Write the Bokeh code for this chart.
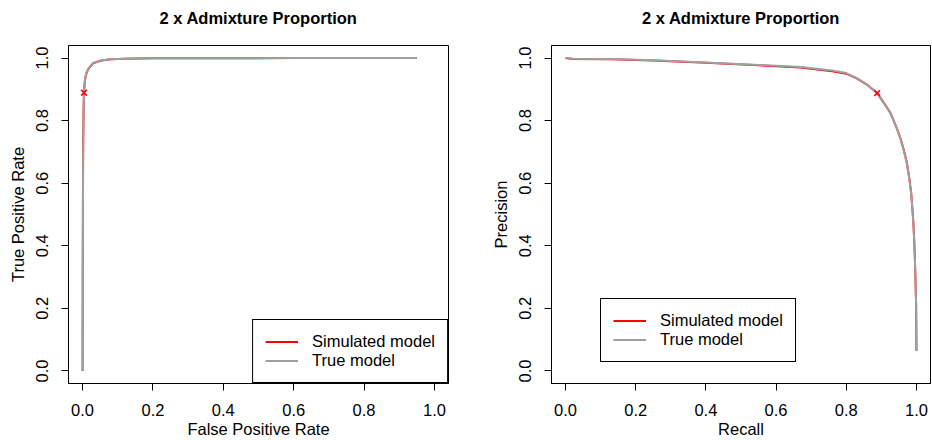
from bokeh.plotting import figure
from bokeh.layouts import row
from bokeh.models import FixedTicker, PrintfTickFormatter, Range1d, Legend, LegendItem, LinearAxis
from bokeh.embed import file_html
from bokeh.resources import INLINE

# ---------------- data ----------------
title_text = "2 x Admixture Proportion"
series_names = ["Simulated model", "True model"]
tick_values = [0.0, 0.2, 0.4, 0.6, 0.8, 1.0]

# ROC curve (left panel)
roc_fpr_true = [0.0, 0.0005, 0.001, 0.0015, 0.002, 0.003, 0.004, 0.006, 0.008, 0.011, 0.015,
                0.02, 0.03, 0.05, 0.08, 0.12, 0.2, 0.3, 0.45, 0.6, 0.8, 0.95]
roc_tpr_true = [0.0, 0.25, 0.5, 0.65, 0.75, 0.84, 0.889, 0.922, 0.939, 0.952, 0.963,
                0.971, 0.984, 0.992, 0.996, 0.998, 0.999, 0.9993, 0.9996, 0.9998, 0.9999, 1.0]
roc_fpr_sim = [0.0, 0.0004, 0.0009, 0.0014, 0.002, 0.003, 0.004, 0.006, 0.008, 0.011, 0.015,
               0.02, 0.03, 0.05, 0.08, 0.12, 0.2, 0.3, 0.45, 0.6, 0.8, 0.95]
roc_tpr_sim = [0.0, 0.26, 0.51, 0.66, 0.755, 0.843, 0.889, 0.921, 0.938, 0.951, 0.962,
               0.970, 0.983, 0.991, 0.996, 0.998, 0.999, 0.9993, 0.9996, 0.9998, 0.9999, 1.0]
roc_cut_fpr = [0.004]
roc_cut_tpr = [0.889]

# Precision-recall curve (right panel)
pr_recall_true = [0.0, 0.02, 0.13, 0.25, 0.4, 0.55, 0.67, 0.76, 0.80, 0.83, 0.86, 0.888,
                  0.91, 0.925, 0.935, 0.945, 0.955, 0.965, 0.973, 0.98, 0.985, 0.988, 0.991,
                  0.993, 0.995, 0.997, 0.999, 1.0]
pr_precision_true = [1.0, 0.998, 0.997, 0.993, 0.986, 0.978, 0.971, 0.96, 0.952, 0.936, 0.915, 0.888,
                     0.853, 0.826, 0.80, 0.772, 0.74, 0.70, 0.661, 0.61, 0.565, 0.522, 0.475,
                     0.43, 0.373, 0.30, 0.213, 0.065]
pr_recall_sim = [0.0, 0.02, 0.13, 0.25, 0.4, 0.55, 0.67, 0.76, 0.80, 0.83, 0.86, 0.888,
                 0.91, 0.925, 0.935, 0.945, 0.955, 0.965, 0.973, 0.98, 0.985, 0.988, 0.991,
                 0.993, 0.995, 0.997, 0.999, 1.0]
pr_precision_sim = [1.0, 0.997, 0.996, 0.992, 0.985, 0.977, 0.970, 0.958, 0.950, 0.935, 0.914, 0.888,
                    0.852, 0.826, 0.80, 0.773, 0.741, 0.702, 0.663, 0.613, 0.568, 0.525, 0.478,
                    0.433, 0.376, 0.303, 0.216, 0.065]
pr_cut_recall = [0.888]
pr_cut_precision = [0.888]

FONT = "Liberation Sans"
FS = "16.5px"
RED = "#FF0000"
GRAY = "#A0A0A0"


def style_axis(ax, label, vertical=False):
    ax.axis_label = label
    ax.axis_label_text_font = FONT
    ax.axis_label_text_font_size = FS
    ax.axis_label_text_font_style = "normal"
    ax.axis_label_text_color = "black"
    ax.ticker = FixedTicker(ticks=tick_values)
    ax.formatter = PrintfTickFormatter(format="%.1f")
    ax.major_label_text_font = FONT
    ax.major_label_text_font_size = FS
    ax.major_label_text_color = "black"
    ax.major_tick_out = 7
    ax.major_tick_in = 0
    ax.minor_tick_out = 0
    ax.minor_tick_in = 0
    ax.major_tick_line_color = "black"
    ax.axis_line_color = "black"
    if vertical:
        ax.major_label_orientation = "vertical"
        ax.major_label_standoff = 13
        ax.axis_label_standoff = 7
    else:
        ax.major_label_standoff = 13
        ax.axis_label_standoff = 1


def make_panel(width, mbl, mbr, xs, ys, xc, yc, xlabel, ylabel):
    p = figure(width=width, height=440, x_range=Range1d(-0.04, 1.04), y_range=Range1d(-0.04, 1.04),
               output_backend="svg", toolbar_location=None,
               min_border_left=mbl, min_border_right=mbr, min_border_top=45, min_border_bottom=56)
    p.xgrid.visible = False
    p.ygrid.visible = False
    p.outline_line_color = "black"
    p.outline_line_width = 1
    p.outline_line_alpha = 1
    p.background_fill_color = "white"
    p.border_fill_color = "white"
    style_axis(p.xaxis[0], xlabel)
    style_axis(p.yaxis[0], ylabel, vertical=True)
    # main title as the label of a tick-less axis above the frame (centred over the frame, R style)
    top = LinearAxis(ticker=FixedTicker(ticks=[]), axis_label=title_text,
                     axis_label_text_font=FONT, axis_label_text_font_size=FS,
                     axis_label_text_font_style="bold", axis_label_text_color="black",
                     axis_label_standoff=19, major_label_standoff=0,
                     major_tick_out=0, major_tick_in=0, minor_tick_out=0, minor_tick_in=0,
                     axis_line_color=None)
    p.add_layout(top, "above")
    r_sim = p.line(xs[0], ys[0], line_color=RED, line_width=2)
    r_true = p.line(xs[1], ys[1], line_color=GRAY, line_width=2)
    p.scatter(xc, yc, marker="x", size=8, line_color=RED, line_width=1.6)
    return p, [LegendItem(label=series_names[0], renderers=[r_sim]),
               LegendItem(label=series_names[1], renderers=[r_true])]


def make_legend(items, location):
    return Legend(items=items, location=location, margin=0, padding=12, spacing=0,
                  glyph_width=33, glyph_height=19, label_height=19, label_standoff=14,
                  border_line_color="black", border_line_width=1, border_line_alpha=1,
                  background_fill_color="white", background_fill_alpha=1,
                  label_text_font=FONT, label_text_font_size=FS, label_text_color="black")


p1, items1 = make_panel(466, 68, 18, [roc_fpr_sim, roc_fpr_true], [roc_tpr_sim, roc_tpr_true],
                        roc_cut_fpr, roc_cut_tpr, "False Positive Rate", "True Positive Rate")
p1.add_layout(make_legend(items1, "bottom_right"))

p2, items2 = make_panel(466, 85, 2, [pr_recall_sim, pr_recall_true], [pr_precision_sim, pr_precision_true],
                        pr_cut_recall, pr_cut_precision, "Recall", "Precision")
p2.add_layout(make_legend(items2, (49, 21)))

layout = row(p1, p2)
open("out.html", "w").write(file_html(layout, INLINE))
